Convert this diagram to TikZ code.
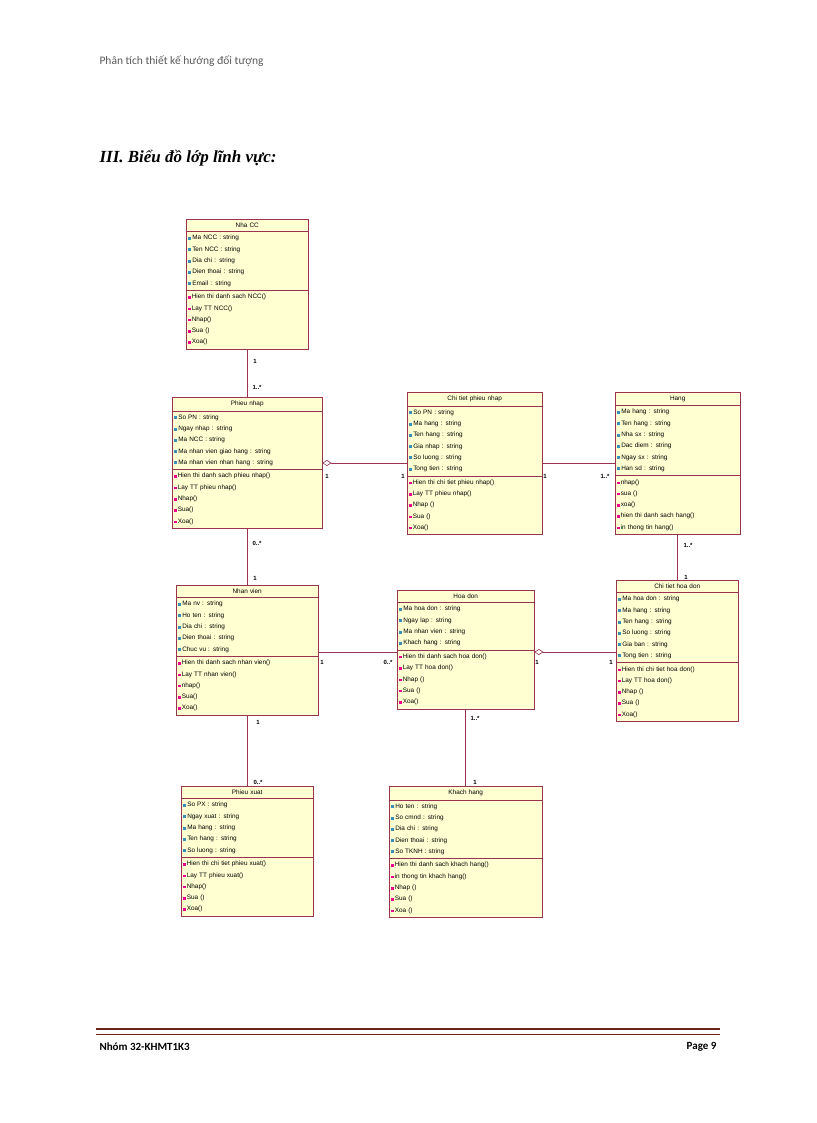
\documentclass[tikz,border=0pt]{standalone}
\usepackage{fontspec}
\setmainfont{Liberation Serif}
\newfontfamily\umlfont{Liberation Sans}
\newfontfamily\headfont{Carlito}
\usepackage{xcolor}
\usetikzlibrary{arrows.meta,shapes.multipart,positioning}
\definecolor{umlline}{HTML}{993350}
\definecolor{umlfill}{HTML}{FFFFD2}
\definecolor{footline}{HTML}{6B2418}
\newcommand{\at}{\textcolor{cyan!70!black}{\rule{3pt}{3pt}}\,}
\newcommand{\op}{\textcolor{magenta}{\rule{2.5pt}{2.5pt}}\,}
\newcommand{\ctitle}[1]{\makebox[\linewidth][c]{#1}}

\begin{document}
\begin{tikzpicture}[x=1pt,y=-1pt,
        cls/.style={draw=umlline, fill=umlfill, rectangle split, rectangle split parts=3,
                anchor=north west,
                font=\umlfont\fontsize{6.4}{11.3}\selectfont, inner xsep=2pt, inner ysep=3.6pt},
        assoc/.style={draw=umlline, semithick},
        agg/.style={assoc, {Diamond[open,length=9pt,width=6pt]}-},
        mult/.style={font=\umlfont\bfseries\fontsize{6}{7}\selectfont, inner sep=0pt}]
        \useasboundingbox (0,0) rectangle (816,1123);

        % page header and title
        \node[anchor=west, text=black!65, font=\headfont\fontsize{11.5}{13}\selectfont] (head) at (96,61) {Phân tích thiết kế hướng đối tượng};
        \node[anchor=west, font=\bfseries\itshape\fontsize{17}{20}\selectfont] (title) at (96,158) {III. Biểu đồ lớp lĩnh vực:};

        % classes
        \node[cls, text width=118pt] (ncc) at (186,219) {\ctitle{Nha CC}
                \nodepart{two}\at Ma NCC : string\\\at Ten NCC : string\\\at Dia chi : string\\\at Dien thoai : string\\\at Email : string
                \nodepart{three}\op Hien thi danh sach NCC()\\\op Lay TT NCC()\\\op Nhap()\\\op Sua ()\\\op Xoa()};
        \node[cls, text width=146pt] (pn) at (172,397) {\ctitle{Phieu nhap}
                \nodepart{two}\at So PN : string\\\at Ngay nhap : string\\\at Ma NCC : string\\\at Ma nhan vien giao hang : string\\\at Ma nhan vien nhan hang : string
                \nodepart{three}\op Hien thi danh sach phieu nhap()\\\op Lay TT phieu nhap()\\\op Nhap()\\\op Sua()\\\op Xoa()};
        \node[cls, text width=131pt] (ctpn) at (407,392) {\ctitle{Chi tiet phieu nhap}
                \nodepart{two}\at So PN : string\\\at Ma hang : string\\\at Ten hang : string\\\at Gia nhap : string\\\at So luong : string\\\at Tong tien : string
                \nodepart{three}\op Hien thi chi tiet phieu nhap()\\\op Lay TT phieu nhap()\\\op Nhap ()\\\op Sua ()\\\op Xoa()};
        \node[cls, text width=121pt] (hang) at (615,392) {\ctitle{Hang}
                \nodepart{two}\at Ma hang : string\\\at Ten hang : string\\\at Nha sx : string\\\at Dac diem : string\\\at Ngay sx : string\\\at Han sd : string
                \nodepart{three}\op nhap()\\\op sua ()\\\op xoa()\\\op hien thi danh sach hang()\\\op in thong tin hang()};
        \node[cls, text width=118pt] (cthd) at (616,580) {\ctitle{Chi tiet hoa don}
                \nodepart{two}\at Ma hoa don : string\\\at Ma hang : string\\\at Ten hang : string\\\at So luong : string\\\at Gia ban : string\\\at Tong tien : string
                \nodepart{three}\op Hien thi chi tiet hoa don()\\\op Lay TT hoa don()\\\op Nhap ()\\\op Sua ()\\\op Xoa()};
        \node[cls, text width=138pt] (nv) at (176,585) {\ctitle{Nhan vien}
                \nodepart{two}\at Ma nv : string\\\at Ho ten : string\\\at Dia chi : string\\\at Dien thoai : string\\\at Chuc vu : string
                \nodepart{three}\op Hien thi danh sach nhan vien()\\\op Lay TT nhan vien()\\\op nhap()\\\op Sua()\\\op Xoa()};
        \node[cls, text width=133pt] (hd) at (397,590) {\ctitle{Hoa don}
                \nodepart{two}\at Ma hoa don : string\\\at Ngay lap : string\\\at Ma nhan vien : string\\\at Khach hang : string
                \nodepart{three}\op Hien thi danh sach hoa don()\\\op Lay TT hoa don()\\\op Nhap ()\\\op Sua ()\\\op Xoa()};
        \node[cls, text width=128pt] (px) at (181,786) {\ctitle{Phieu xuat}
                \nodepart{two}\at So PX : string\\\at Ngay xuat : string\\\at Ma hang : string\\\at Ten hang : string\\\at So luong : string
                \nodepart{three}\op Hien thi chi tiet phieu xuat()\\\op Lay TT phieu xuat()\\\op Nhap()\\\op Sua ()\\\op Xoa()};
        \node[cls, text width=149pt] (kh) at (389,786) {\ctitle{Khach hang}
                \nodepart{two}\at Ho ten : string\\\at So cmnd : string\\\at Dia chi : string\\\at Dien thoai : string\\\at So TKNH : string
                \nodepart{three}\op Hien thi danh sach khach hang()\\\op in thong tin khach hang()\\\op Nhap ()\\\op Sua ()\\\op Xoa ()};

        % associations
        \draw[assoc] (ncc.south) -- (ncc.south |- pn.north);
        \draw[agg] (pn.east |- 0,463) -- (ctpn.west |- 0,463);
        \draw[assoc] (ctpn.east |- 0,463) -- (hang.west |- 0,463);
        \draw[assoc] (hang.south) -- (hang.south |- cthd.north);
        \draw[assoc] (pn.south -| ncc.south) -- (ncc.south |- nv.north);
        \draw[assoc] (nv.east |- 0,652) -- (hd.west |- 0,652);
        \draw[agg] (hd.east |- 0,652) -- (cthd.west |- 0,652);
        \draw[assoc] (nv.south -| ncc.south) -- (ncc.south |- px.north);
        \draw[assoc] (465,0 |- hd.south) coordinate (hdk) -- (hdk |- kh.north);

        % multiplicities
        \node[mult] (m1) at (255,361) {1};
        \node[mult] (m2) at (257,387) {1..*};
        \node[mult] (m3) at (327,476) {1};
        \node[mult] (m4) at (403,476) {1};
        \node[mult] (m5) at (545,476) {1};
        \node[mult] (m6) at (605,476) {1..*};
        \node[mult] (m7) at (688,545) {1..*};
        \node[mult] (m8) at (686,577) {1};
        \node[mult] (m9) at (257,543) {0..*};
        \node[mult] (m10) at (255,578) {1};
        \node[mult] (m11) at (322,662) {1};
        \node[mult] (m12) at (388,662) {0..*};
        \node[mult] (m13) at (537,662) {1};
        \node[mult] (m14) at (611,662) {1};
        \node[mult] (m15) at (258,722) {1};
        \node[mult] (m16) at (258,782) {0..*};
        \node[mult] (m17) at (475,718) {1..*};
        \node[mult] (m18) at (475,782) {1};

        % footer
        \draw[footline, line width=2.5pt] (96,1029) -- (720,1029);
        \draw[footline, line width=0.6pt] (96,1034) -- (720,1034);
        \node[anchor=west, font=\headfont\bfseries\fontsize{11}{13}\selectfont] (foot) at (96,1047) {Nhóm 32-KHMT1K3};
        \node[anchor=east, font=\headfont\bfseries\fontsize{11}{13}\selectfont] (page) at (720,1047) {Page 9};
\end{tikzpicture}
\end{document}
